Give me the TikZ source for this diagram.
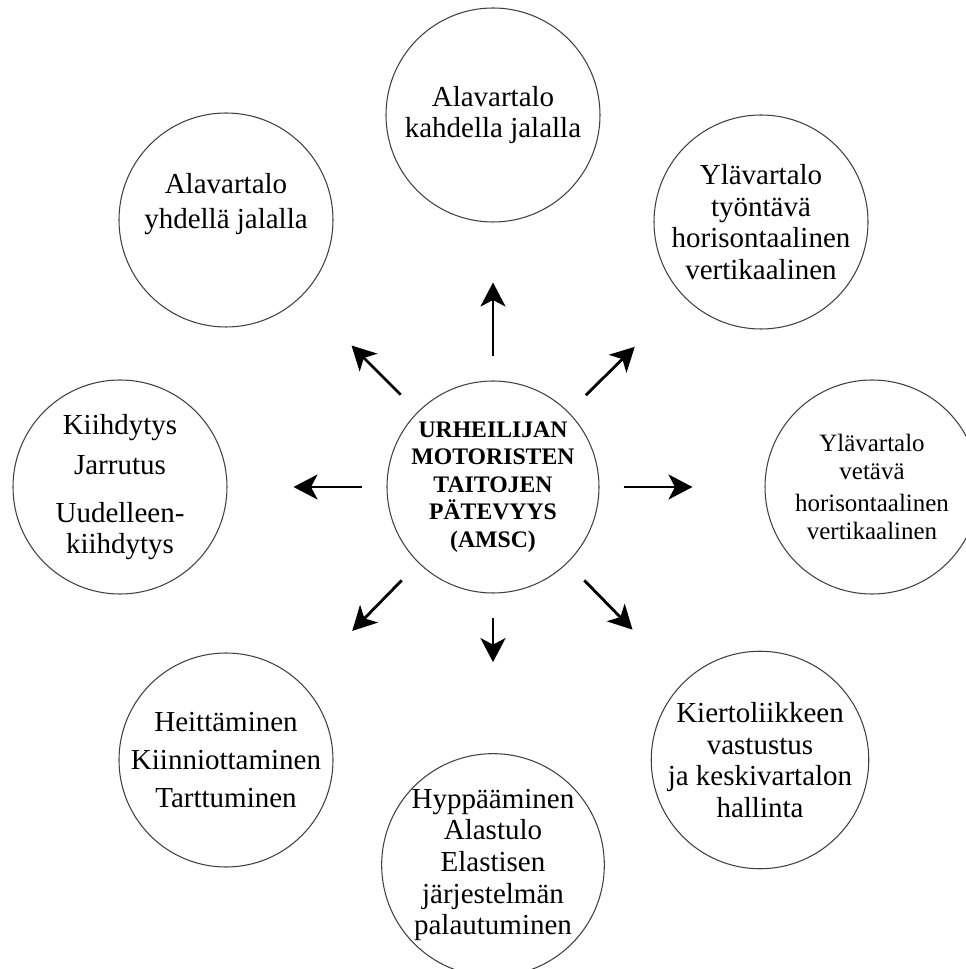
\documentclass[tikz,border=0pt]{standalone}
\usepackage{fontspec}
\setmainfont{Liberation Serif}
\usepackage{tikz}
\usetikzlibrary{shapes.geometric, arrows.meta}
\usetikzlibrary{positioning}
\tikzstyle{skill} = [circle, text centered, align=center, draw=black!75, line width=0.6pt, minimum size=4.28cm, inner sep=0pt, font=\fontsize{16.5}{18}\selectfont]
\tikzstyle{core} = [skill, minimum size=4.24cm, font=\fontsize{13.5}{15.6}\selectfont\bfseries]
\tikzstyle{arrow} = [line width=1.6pt, -{Stealth[length=0.48cm, width=0.5cm, inset=0.13cm]}, shorten <=0.48cm]

\begin{document}
\begin{tikzpicture}[on grid]
\useasboundingbox (-9.86,-9.64) rectangle (9.44,9.74);

\node (amsc) [core] {URHEILIJAN\\MOTORISTEN\\TAITOJEN\\PÄTEVYYS\\(AMSC)};

\node (twolegs) [skill, above=7.44cm of amsc] {Alavartalo\\kahdella jalalla};
\node (oneleg) [skill, above left=5.34cm and 5.34cm of amsc] {Alavartalo\\[2pt]yhdellä jalalla\rule[-0.76cm]{0pt}{0pt}};
\node (push) [skill, above right=5.30cm and 5.36cm of amsc] {Ylävartalo\\työntävä\\horisontaalinen\\vertikaalinen};

\node (accel) [skill, left=7.46cm of amsc] {Kiihdytys\\[4.8pt]Jarrutus\\[9.3pt]Uudelleen-\\kiihdytys};
\node (pull) [skill, right=7.58cm of amsc, font=\fontsize{14.2}{16}\selectfont] {Ylävartalo\\vetävä\\[2pt]horisontaalinen\\vertikaalinen};

\node (throw) [skill, below left=5.46cm and 5.34cm of amsc] {Heittäminen\\[3.6pt]Kiinniottaminen\\[3.6pt]Tarttuminen};
\node (rotate) [skill, below right=5.46cm and 5.34cm of amsc] {Kiertoliikkeen\\vastustus\\ja keskivartalon\\hallinta};
\node (jump) [skill, below=7.56cm of amsc] {Hyppääminen\\Alastulo\\Elastisen\\järjestelmän\\palautuminen};

\draw [arrow, shorten >=1.2cm] (amsc) -- (twolegs);
\draw [arrow, shorten >=1.4cm] (amsc) -- (oneleg);
\draw [arrow, shorten >=1.4cm] (amsc) -- (push);
\draw [arrow, shorten >=1.32cm] (amsc) -- (accel);
\draw [arrow, shorten >=1.44cm] (amsc) -- (pull);
\draw [arrow, shorten >=1.46cm] (amsc) -- (throw);
\draw [arrow, shorten >=1.46cm] (amsc) -- (rotate);
\draw [arrow, shorten >=1.82cm] (amsc) -- (jump);

\end{tikzpicture}
\end{document}
